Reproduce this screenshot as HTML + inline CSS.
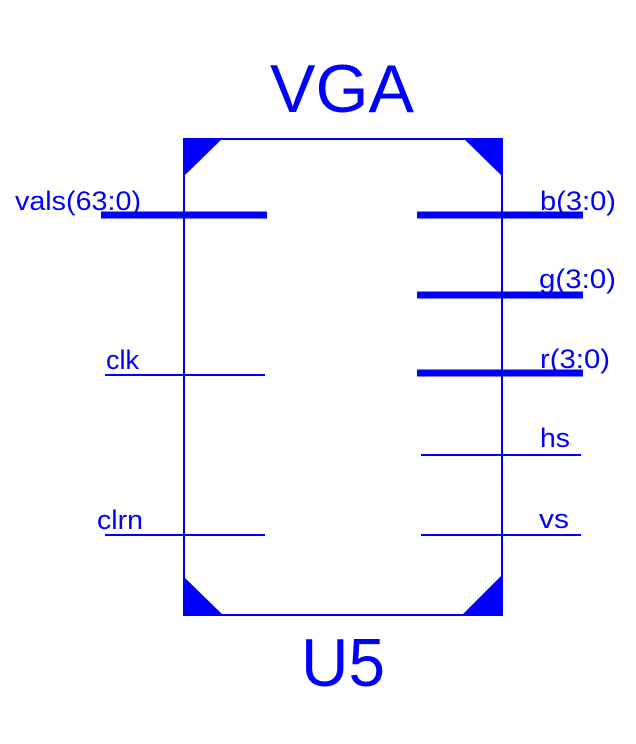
<!DOCTYPE html>
<html><head><style>html,body{margin:0;padding:0;background:#fff;}svg{display:block}</style></head>
<body>
<svg width="636" height="744" viewBox="0 0 636 744" xmlns="http://www.w3.org/2000/svg" font-family="Liberation Sans, Arial, sans-serif" fill="#0000ff">
<rect x="184" y="139" width="318" height="476" fill="none" stroke="#0000ff" stroke-width="2"/>
<polygon points="183,138 223,138 183,177"/>
<polygon points="503,138 463,138 503,177"/>
<polygon points="183,616 183,576 224,616"/>
<polygon points="503,616 503,574 461,616"/>
<g stroke="#0000ff">
<line x1="101" y1="215" x2="267" y2="215" stroke-width="7"/>
<line x1="417" y1="215" x2="583" y2="215" stroke-width="7"/>
<line x1="417" y1="295" x2="583" y2="295" stroke-width="7"/>
<line x1="417" y1="373" x2="583" y2="373" stroke-width="7"/>
<line x1="105" y1="375" x2="265" y2="375" stroke-width="2"/>
<line x1="105" y1="535" x2="265" y2="535" stroke-width="2"/>
<line x1="421" y1="455" x2="581" y2="455" stroke-width="2"/>
<line x1="421" y1="535" x2="581" y2="535" stroke-width="2"/>
</g>
<text x="270" y="112" font-size="68" textLength="144" lengthAdjust="spacingAndGlyphs">VGA</text>
<text x="301" y="686" font-size="68" textLength="84" lengthAdjust="spacingAndGlyphs">U5</text>
<g font-size="27">
<text x="15" y="210" textLength="126" lengthAdjust="spacingAndGlyphs">vals(63:0)</text>
<text x="106" y="369">clk</text>
<text x="97" y="529" textLength="46" lengthAdjust="spacingAndGlyphs">clrn</text>
<text x="540" y="210" textLength="76" lengthAdjust="spacingAndGlyphs">b(3:0)</text>
<text x="539" y="288" textLength="77" lengthAdjust="spacingAndGlyphs">g(3:0)</text>
<text x="540" y="368" textLength="70" lengthAdjust="spacingAndGlyphs">r(3:0)</text>
<text x="540" y="447" textLength="30" lengthAdjust="spacingAndGlyphs">hs</text>
<text x="539" y="528" textLength="30" lengthAdjust="spacingAndGlyphs">vs</text>
</g>
</svg>
</body></html>
